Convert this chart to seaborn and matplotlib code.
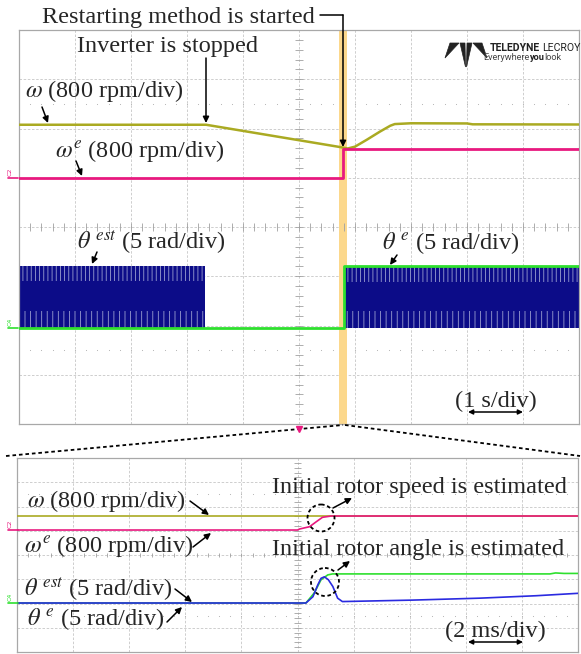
import numpy as np
import matplotlib
matplotlib.use('Agg')
import matplotlib.pyplot as plt
import seaborn as sns
from matplotlib.patches import Circle, Polygon

# ---- upper record (1 s/div) ----
omega_t_s = [0, 3.34, 5.79, 5.87, 6.0, 6.21, 6.45, 6.63, 6.71, 7.0, 8.0, 8.1, 10]
omega_rpm = [861, 861, 490, 475, 505, 617, 752, 845, 872, 885, 882, 868, 865]

omega_e_t_s = [0, 5.79, 5.79, 10]
omega_e_rpm = [0, 0, 460, 460]

theta_e_t_s = [0, 5.8, 5.8, 10]
theta_e_rad = [0, 0, 6.26, 6.26]

# theta_est is a dense sawtooth 0..2pi: stored as its envelope per running segment
theta_est_seg_t = [[0, 3.32], [5.82, 10]]
theta_est_seg_hi = [[6.3, 6.3], [6.2, 6.2]]
theta_est_seg_lo = [[0, 0], [0, 0]]

restart_window_s = (5.71, 5.86)

# ---- lower record, zoom around restart (2 ms/div) ----
omega_t_ms = [0, 20]
omega_rpm_z = [462, 462]

omega_e_t_ms = [0, 10.0, 10.07, 10.43, 10.67, 10.89, 11.2, 20]
omega_e_rpm_z = [0, 0, 33, 109, 274, 419, 462, 462]

theta_e_t_ms = [0, 10.3, 10.6, 10.84, 11.08, 11.25, 19.0, 19.2, 19.5, 20]
theta_e_rad_z = [0, 0, 2.1, 4.8, 5.8, 6.0, 6.0, 6.2, 6.1, 6.1]

theta_est_t_ms = [0, 10.3, 10.55, 10.72, 10.84, 10.96, 11.1, 11.26, 11.43, 11.6, 14.1, 16.5, 18.5, 20]
theta_est_rad_z = [0, 0, 1.3, 3.7, 5.1, 5.4, 4.8, 3.4, 1.0, 0.3, 0.6, 1.0, 1.5, 2.0]

# scope colours
C_OMEGA = '#aaaa22'
C_OMEGA_E = '#e8197f'
C_THETA_E = '#2ee02e'
C_THETA_EST = '#0c0c88'
C_WIN = '#fcd88c'

sns.set_style('white')
plt.rcParams['font.family'] = ['Liberation Serif', 'DejaVu Serif']
plt.rcParams['mathtext.fontset'] = 'stix'
plt.rcParams['hatch.linewidth'] = 0.6

W, H = 581, 654
fig = plt.figure(figsize=(W / 100, H / 100), dpi=100)


def px_axes(x0, y0, x1, y1):
    return fig.add_axes([x0 / W, 1 - y1 / H, (x1 - x0) / W, (y1 - y0) / H])


def graticule(ax, xmax):
    ax.set_xlim(0, xmax)
    ax.set_ylim(0, 8)
    ax.set_xticks(np.linspace(0, xmax, 11))
    ax.set_yticks(range(9))
    ax.tick_params(length=0, labelbottom=False, labelleft=False)
    ax.grid(True, color='#c6c6c6', lw=0.6, ls=(0, (3, 2)))
    for s in ax.spines.values():
        s.set_color('#a8a8a8')
        s.set_linewidth(0.9)
    dx = xmax / 10
    ax.vlines(np.arange(0, xmax + 1e-9, dx / 5), 4 - 0.08, 4 + 0.08, color='#a0a0a0', lw=0.6)
    ax.hlines(np.arange(0, 8.01, 0.2), xmax / 2 - dx * 0.07, xmax / 2 + dx * 0.07, color='#a0a0a0', lw=0.6)
    dots = np.arange(dx / 5, xmax, dx / 5)
    for yy in (1.5, 6.5):
        ax.scatter(dots, np.full(len(dots), yy), s=0.6, color='#b0b0b0', lw=0)


def trace(ax, t, v, color, lw=1.6, z=3):
    sns.lineplot(x=t, y=v, ax=ax, color=color, lw=lw, estimator=None, sort=False, zorder=z)


# channel positions (div) and gains
def c2_top(v): return 5.0 + np.asarray(v) / 800
def c4_top(v): return 1.95 + np.asarray(v) / 5
def c2_bot(v): return 5.03 + np.asarray(v) / 800
def c4_bot(v): return 2.02 + np.asarray(v) / 5


ax_top = px_axes(19, 30, 579, 424)
graticule(ax_top, 10)
ax_top.axvspan(*restart_window_s, color=C_WIN, lw=0, zorder=1)
for t, lo, hi in zip(theta_est_seg_t, theta_est_seg_lo, theta_est_seg_hi):
    ax_top.fill_between(t, c4_top(lo), c4_top(hi), color=C_THETA_EST, lw=0, zorder=2)
    ax_top.fill_between(t, c4_top(hi) - 0.3, c4_top(hi), facecolor='none', hatch='||||',
                        edgecolor='#9a9ed0', lw=0, zorder=2)
    ax_top.fill_between(t, c4_top(lo), c4_top(lo) + 0.35, facecolor='none', hatch='|||',
                        edgecolor='#9a9ed0', lw=0, zorder=2)
trace(ax_top, omega_t_s, c2_top(omega_rpm), C_OMEGA, lw=1.8)
trace(ax_top, omega_e_t_s, c2_top(omega_e_rpm), C_OMEGA_E, lw=2.0)
trace(ax_top, theta_e_t_s, c4_top(theta_e_rad), C_THETA_E, lw=2.0)

ax_bot = px_axes(17, 458, 578, 652)
graticule(ax_bot, 20)
trace(ax_bot, omega_t_ms, c2_bot(omega_rpm_z), C_OMEGA, lw=1.2)
trace(ax_bot, omega_e_t_ms, c2_bot(omega_e_rpm_z), C_OMEGA_E, lw=1.2)
trace(ax_bot, theta_e_t_ms, c4_bot(theta_e_rad_z), C_THETA_E, lw=1.2)
trace(ax_bot, theta_est_t_ms, c4_bot(theta_est_rad_z), '#2a2ae0', lw=1.2)

# ---- annotation overlay in pixel units ----
ov = fig.add_axes([0, 0, 1, 1], zorder=5)
ov.set_xlim(0, W)
ov.set_ylim(H, 0)
ov.axis('off')
ov.patch.set_alpha(0)

FS = 17.5


def txt(x, y, s, **kw):
    ov.text(x, y, s, fontsize=kw.pop('fs', FS), ha='left', va='baseline', **kw)


def arrow(x0, y0, x1, y1, style='-|>', ms=9):
    ov.annotate('', xy=(x1, y1), xytext=(x0, y0),
                arrowprops=dict(arrowstyle=style, color='k', lw=1.1, mutation_scale=ms,
                                shrinkA=0, shrinkB=0))


txt(42, 23, 'Restarting method is started')
ov.plot([320, 343], [15, 15], color='k', lw=1.1)
arrow(343, 15, 343, 147)
txt(77, 52, 'Inverter is stopped')
arrow(206, 58, 206, 123)
txt(25, 97, r'$\omega$ (800 rpm/div)')
arrow(42, 107, 48, 123)
txt(55, 157, r'$\omega^e$ (800 rpm/div)')
arrow(76, 161, 82, 176)
txt(77, 249, r'$\theta^{\ est}$ (5 rad/div)')
arrow(97, 252, 92, 264)
txt(382, 249, r'$\theta^{\ e}$ (5 rad/div)')
arrow(397, 255, 390, 265)
txt(455, 407, '(1 s/div)')
arrow(468, 412, 523, 412, style='<|-|>', ms=7)

# zoom guide lines and trigger mark
ov.plot([6, 343], [456, 425], color='k', lw=1.3, ls=(0, (2, 1.6)))
ov.plot([345, 580], [425, 456], color='k', lw=1.3, ls=(0, (2, 1.6)))
ov.plot([299], [429], marker='v', color=C_OMEGA_E, ms=4)

txt(272, 493, 'Initial rotor speed is estimated')
ov.add_patch(Circle((321, 518), 13.5, fill=False, edgecolor='k', lw=1.3, ls=(0, (2, 1.5))))
arrow(333, 508, 352, 498)
txt(272, 555, 'Initial rotor angle is estimated')
ov.add_patch(Circle((325, 582), 14, fill=False, edgecolor='k', lw=1.3, ls=(0, (2, 1.5))))
arrow(338, 570, 350, 561)
txt(27, 507, r'$\omega$ (800 rpm/div)')
arrow(190, 501, 209, 515)
txt(24, 552, r'$\omega^e$ (800 rpm/div)')
arrow(193, 547, 211, 533)
txt(24, 596, r'$\theta^{\ est}$ (5 rad/div)')
arrow(175, 589, 192, 602)
txt(27, 625, r'$\theta^{\ e}$ (5 rad/div)')
arrow(167, 622, 182, 607)
txt(445, 637, '(2 ms/div)')
arrow(468, 642, 523, 642, style='<|-|>', ms=7)

# channel tags
for y, lab, col in [(178, 'C2', C_OMEGA_E), (328, 'C4', C_THETA_E),
                    (530, 'C2', C_OMEGA_E), (603, 'C4', C_THETA_E)]:
    ov.plot([8, 18], [y, y], color=col, lw=1.2)
    ov.text(10, y - 2, lab, color=col, fontsize=4.5, rotation=90, ha='center', va='bottom',
            family='DejaVu Sans')

# scope logo
for pts in [[(450, 43), (459, 43), (445, 58)], [(460, 43), (465, 43), (465.5, 67)],
            [(467, 43), (472, 43), (466.5, 67)], [(473, 43), (482, 43), (487, 58)]]:
    ov.add_patch(Polygon(pts, closed=True, facecolor='#222222', edgecolor='#222222', lw=0.5))
ov.text(540, 51, 'TELEDYNE', fontsize=7.6, fontweight='bold', family='Roboto', color='#222222',
        ha='right', va='baseline')
ov.text(542, 51, 'LECROY', fontsize=7.6, family='Roboto', color='#222222', ha='left', va='baseline')
ov.text(529, 60, 'Everywhere', fontsize=6.6, family='Roboto', color='#444444', ha='right', va='baseline')
ov.text(529.5, 60, 'you', fontsize=6.6, family='Roboto', fontweight='bold', color='#222222',
        ha='left', va='baseline')
ov.text(544, 60, 'look', fontsize=6.6, family='Roboto', color='#444444', ha='left', va='baseline')

fig.savefig('out.png', dpi=100)
